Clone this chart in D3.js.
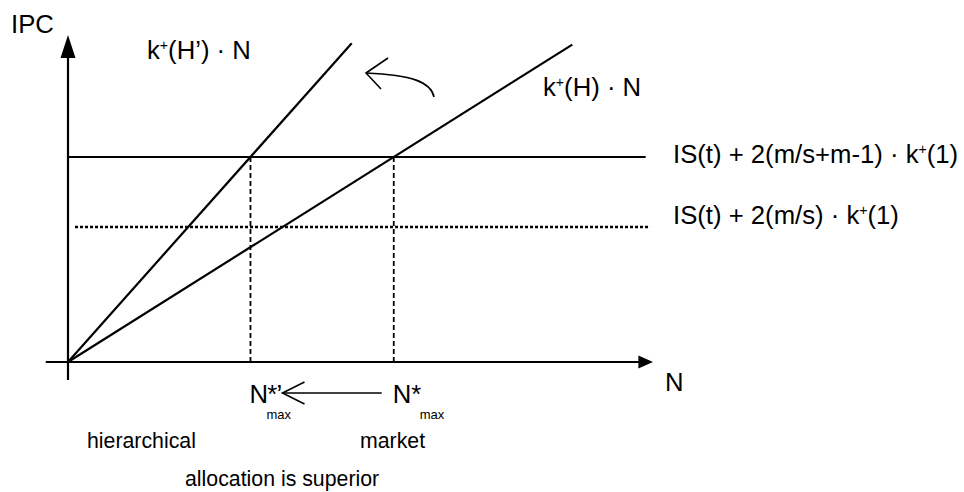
<!DOCTYPE html>
<html>
<head>
<meta charset="utf-8">
<script src="https://cdn.jsdelivr.net/npm/d3@7"></script>
<style>
  html, body { margin: 0; padding: 0; background: #fff; }
  svg { display: block; }
  text { font-family: "Liberation Sans", Arial, Helvetica, sans-serif; fill: #000; }
</style>
</head>
<body>
<svg id="chart" width="964" height="492"></svg>
<script>
// ---- data (conceptual units) ----
const rayNames  = ["(H’) · N", "(H) · N"];        // suffixes after k⁺
const raySlopes = [2.01, 1.126];                  // IPC per unit N
const rayEnds   = [4.85, 8.62];                   // N where each ray stops
const levelNames  = ["IS(t) + 2(m/s+m-1) · ", "IS(t) + 2(m/s) · "]; // followed by k⁺(1)
const levelValues = [6.27, 4.13];                 // IPC thresholds
const levelStyles = ["solid", "dotted"];
const nMaxNames   = ["N*’", "N*"];                // hierarchical, market
const bottomLabels = ["hierarchical", "market", "allocation is superior"];

// ---- scales ----
const svg = d3.select("#chart");
const x = d3.scaleLinear().domain([0, 10]).range([68, 653]);
const y = d3.scaleLinear().domain([0, 10]).range([362, 35]);

const black = "#000";
const FS = 25.7;

// ---- axes ----
svg.append("line").attr("x1", x(0)).attr("x2", x(0))
  .attr("y1", y(-0.55)).attr("y2", y(9.3))
  .attr("stroke", black).attr("stroke-width", 2.2);
svg.append("path")
  .attr("d", `M${x(0)},${y(10)} L${x(0) - 7.5},${y(9.3)} L${x(0) + 7.5},${y(9.3)} Z`)
  .attr("fill", black);
svg.append("line").attr("x1", x(-0.38)).attr("x2", x(9.76))
  .attr("y1", y(0)).attr("y2", y(0))
  .attr("stroke", black).attr("stroke-width", 2.2);
svg.append("path")
  .attr("d", `M${x(10)},${y(0)} L${x(9.75)},${y(0) - 6.5} L${x(9.75)},${y(0) + 6.5} Z`)
  .attr("fill", black);

// ---- level lines ----
const levelStart = [0, 0.12];
const levelEnd = [9.875, 9.95];
levelValues.forEach((v, i) => {
  svg.append("line")
    .attr("x1", x(levelStart[i])).attr("x2", x(levelEnd[i]))
    .attr("y1", y(v)).attr("y2", y(v))
    .attr("stroke", black)
    .attr("stroke-width", levelStyles[i] === "solid" ? 2 : 2.4)
    .attr("stroke-dasharray", levelStyles[i] === "solid" ? null : "3,2");
});

// ---- rays ----
raySlopes.forEach((s, i) => {
  svg.append("line")
    .attr("x1", x(0)).attr("y1", y(0))
    .attr("x2", x(rayEnds[i])).attr("y2", y(s * rayEnds[i]))
    .attr("stroke", black).attr("stroke-width", 2.2);
});

// ---- N*max drop lines ----
const nMax = raySlopes.map(s => levelValues[0] / s);
nMax.forEach(n => {
  svg.append("line")
    .attr("x1", x(n)).attr("x2", x(n))
    .attr("y1", y(levelValues[0])).attr("y2", y(0))
    .attr("stroke", black).attr("stroke-width", 1.8)
    .attr("stroke-dasharray", "5,3");
});

// ---- text helpers ----
function kLabel(px, py, before, after, size) {
  const t = svg.append("text").attr("x", px).attr("y", py).attr("font-size", size);
  t.append("tspan").text(before + "k");
  t.append("tspan").attr("font-size", size * 0.55).attr("dy", -size * 0.36).text("+");
  t.append("tspan").attr("dy", size * 0.36).text(after);
  return t;
}

// axis titles
svg.append("text").attr("x", 11).attr("y", 33).attr("font-size", FS).text("IPC");
svg.append("text").attr("x", 665).attr("y", 391).attr("font-size", FS).text("N");

// ray labels
kLabel(147, 59, "", rayNames[0], FS);
kLabel(543, 96, "", rayNames[1], FS);

// level labels
kLabel(673, 163, levelNames[0], "(1)", FS);
kLabel(673, 224, levelNames[1], "(1)", FS);

// N*max labels
nMaxNames.forEach((nm, i) => {
  const px = x(nMax[i]) - 1;
  svg.append("text").attr("x", px).attr("y", 403).attr("font-size", FS)
    .attr("letter-spacing", i === 0 ? -0.8 : 0).text(nm);
  svg.append("text").attr("x", px + (i === 0 ? 17 : 27)).attr("y", 419)
    .attr("font-size", 13).text("max");
});

// arrow from N*max to N*'max
const arrowTip = x(nMax[0]) + 32, arrowTail = x(nMax[1]) - 12, ay = 393;
svg.append("line").attr("x1", arrowTail).attr("x2", arrowTip)
  .attr("y1", ay).attr("y2", ay).attr("stroke", black).attr("stroke-width", 1.6);
svg.append("path")
  .attr("d", `M${arrowTip + 22},${ay - 11} L${arrowTip},${ay} L${arrowTip + 22},${ay + 11}`)
  .attr("fill", "none").attr("stroke", black).attr("stroke-width", 1.6);

// curved arrow (rotation of the ray)
svg.append("path")
  .attr("d", "M434,97 C431,82 412,75 366,73")
  .attr("fill", "none").attr("stroke", black).attr("stroke-width", 1.6);
svg.append("path")
  .attr("d", "M388,58 L366,73 L381,89")
  .attr("fill", "none").attr("stroke", black).attr("stroke-width", 1.6);

// bottom notes
svg.append("text").attr("x", 87).attr("y", 448).attr("font-size", 21.3).text(bottomLabels[0]);
svg.append("text").attr("x", 360).attr("y", 448).attr("font-size", 21.3).text(bottomLabels[1]);
svg.append("text").attr("x", 185).attr("y", 486).attr("font-size", 21.3).text(bottomLabels[2]);
</script>
</body>
</html>
